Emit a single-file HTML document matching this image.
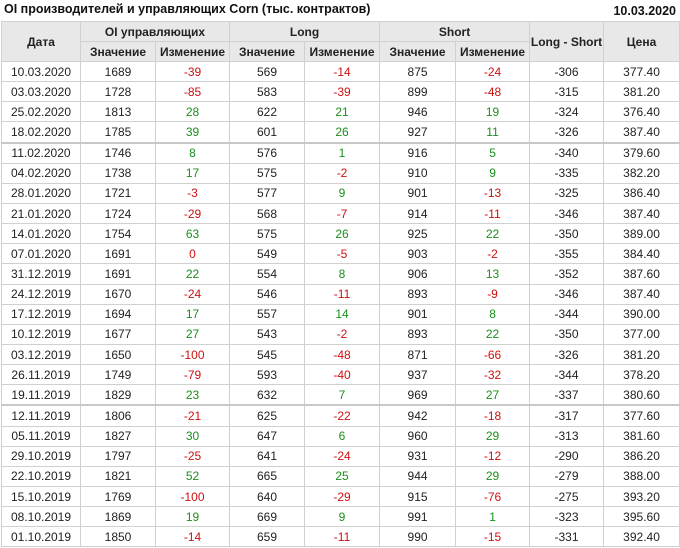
<!DOCTYPE html>
<html><head><meta charset="utf-8"><style>
body{margin:0;background:#fff;font-family:"Liberation Sans",Arial,sans-serif;}
.t{position:absolute;top:2px;left:4px;font-weight:bold;font-size:12.5px;color:#111;}
.d{position:absolute;top:4px;right:4px;font-weight:bold;font-size:12.5px;color:#111;}
table{position:absolute;top:21px;left:1px;border-collapse:collapse;table-layout:fixed;width:678px;font-size:12px;color:#222;}
td,th{border:1px solid #d0d0d0;text-align:center;padding:0;white-space:nowrap;overflow:hidden;}
th{background:#e8e8e8;font-weight:bold;height:19px;font-size:12px;}
td{height:19.15px;}
.r{color:#cc1111}.g{color:#1a8f1a}
tr.s td{border-top:2px solid #c8c8c8;}
</style></head><body>
<div class="t">OI производителей и управляющих Corn (тыс. контрактов)</div>
<div class="d">10.03.2020</div>
<table>
<colgroup><col style="width:79px"><col style="width:75px"><col style="width:74px"><col style="width:75px"><col style="width:75px"><col style="width:76px"><col style="width:74px"><col style="width:74px"><col style="width:76px"></colgroup>
<tr><th rowspan="2">Дата</th><th colspan="2">OI управляющих</th><th colspan="2">Long</th><th colspan="2">Short</th><th rowspan="2">Long - Short</th><th rowspan="2">Цена</th></tr>
<tr><th>Значение</th><th>Изменение</th><th>Значение</th><th>Изменение</th><th>Значение</th><th>Изменение</th></tr>
<tr><td>10.03.2020</td><td>1689</td><td class="r">-39</td><td>569</td><td class="r">-14</td><td>875</td><td class="r">-24</td><td>-306</td><td>377.40</td></tr>
<tr><td>03.03.2020</td><td>1728</td><td class="r">-85</td><td>583</td><td class="r">-39</td><td>899</td><td class="r">-48</td><td>-315</td><td>381.20</td></tr>
<tr><td>25.02.2020</td><td>1813</td><td class="g">28</td><td>622</td><td class="g">21</td><td>946</td><td class="g">19</td><td>-324</td><td>376.40</td></tr>
<tr><td>18.02.2020</td><td>1785</td><td class="g">39</td><td>601</td><td class="g">26</td><td>927</td><td class="g">11</td><td>-326</td><td>387.40</td></tr>
<tr class="s"><td>11.02.2020</td><td>1746</td><td class="g">8</td><td>576</td><td class="g">1</td><td>916</td><td class="g">5</td><td>-340</td><td>379.60</td></tr>
<tr><td>04.02.2020</td><td>1738</td><td class="g">17</td><td>575</td><td class="r">-2</td><td>910</td><td class="g">9</td><td>-335</td><td>382.20</td></tr>
<tr><td>28.01.2020</td><td>1721</td><td class="r">-3</td><td>577</td><td class="g">9</td><td>901</td><td class="r">-13</td><td>-325</td><td>386.40</td></tr>
<tr><td>21.01.2020</td><td>1724</td><td class="r">-29</td><td>568</td><td class="r">-7</td><td>914</td><td class="r">-11</td><td>-346</td><td>387.40</td></tr>
<tr><td>14.01.2020</td><td>1754</td><td class="g">63</td><td>575</td><td class="g">26</td><td>925</td><td class="g">22</td><td>-350</td><td>389.00</td></tr>
<tr><td>07.01.2020</td><td>1691</td><td class="r">0</td><td>549</td><td class="r">-5</td><td>903</td><td class="r">-2</td><td>-355</td><td>384.40</td></tr>
<tr><td>31.12.2019</td><td>1691</td><td class="g">22</td><td>554</td><td class="g">8</td><td>906</td><td class="g">13</td><td>-352</td><td>387.60</td></tr>
<tr><td>24.12.2019</td><td>1670</td><td class="r">-24</td><td>546</td><td class="r">-11</td><td>893</td><td class="r">-9</td><td>-346</td><td>387.40</td></tr>
<tr><td>17.12.2019</td><td>1694</td><td class="g">17</td><td>557</td><td class="g">14</td><td>901</td><td class="g">8</td><td>-344</td><td>390.00</td></tr>
<tr><td>10.12.2019</td><td>1677</td><td class="g">27</td><td>543</td><td class="r">-2</td><td>893</td><td class="g">22</td><td>-350</td><td>377.00</td></tr>
<tr><td>03.12.2019</td><td>1650</td><td class="r">-100</td><td>545</td><td class="r">-48</td><td>871</td><td class="r">-66</td><td>-326</td><td>381.20</td></tr>
<tr><td>26.11.2019</td><td>1749</td><td class="r">-79</td><td>593</td><td class="r">-40</td><td>937</td><td class="r">-32</td><td>-344</td><td>378.20</td></tr>
<tr><td>19.11.2019</td><td>1829</td><td class="g">23</td><td>632</td><td class="g">7</td><td>969</td><td class="g">27</td><td>-337</td><td>380.60</td></tr>
<tr class="s"><td>12.11.2019</td><td>1806</td><td class="r">-21</td><td>625</td><td class="r">-22</td><td>942</td><td class="r">-18</td><td>-317</td><td>377.60</td></tr>
<tr><td>05.11.2019</td><td>1827</td><td class="g">30</td><td>647</td><td class="g">6</td><td>960</td><td class="g">29</td><td>-313</td><td>381.60</td></tr>
<tr><td>29.10.2019</td><td>1797</td><td class="r">-25</td><td>641</td><td class="r">-24</td><td>931</td><td class="r">-12</td><td>-290</td><td>386.20</td></tr>
<tr><td>22.10.2019</td><td>1821</td><td class="g">52</td><td>665</td><td class="g">25</td><td>944</td><td class="g">29</td><td>-279</td><td>388.00</td></tr>
<tr><td>15.10.2019</td><td>1769</td><td class="r">-100</td><td>640</td><td class="r">-29</td><td>915</td><td class="r">-76</td><td>-275</td><td>393.20</td></tr>
<tr><td>08.10.2019</td><td>1869</td><td class="g">19</td><td>669</td><td class="g">9</td><td>991</td><td class="g">1</td><td>-323</td><td>395.60</td></tr>
<tr><td>01.10.2019</td><td>1850</td><td class="r">-14</td><td>659</td><td class="r">-11</td><td>990</td><td class="r">-15</td><td>-331</td><td>392.40</td></tr>
</table>
</body></html>
